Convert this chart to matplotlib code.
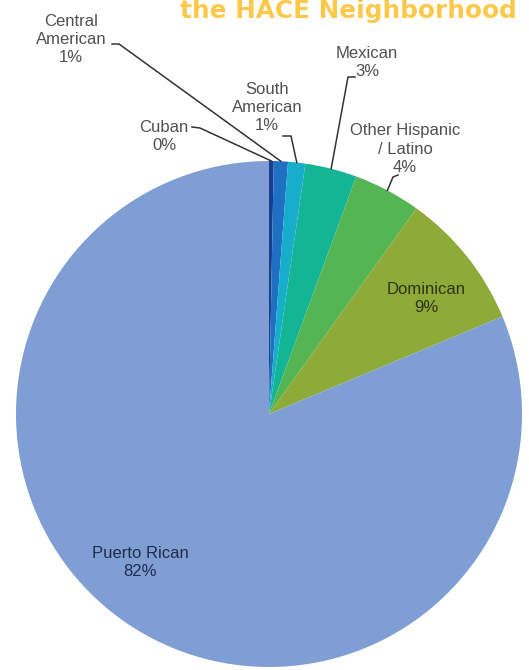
import numpy as np
import matplotlib
matplotlib.use('Agg')
import matplotlib.pyplot as plt

# data (shares in %)
groups = ['Cuban', 'Central\nAmerican', 'South\nAmerican', 'Mexican',
          'Other Hispanic\n/ Latino', 'Dominican', 'Puerto Rican']
shares = [0.3, 0.9, 1.1, 3.3, 4.3, 8.8, 81.3]
pct_labels = ['0%', '1%', '1%', '3%', '4%', '9%', '82%']
colors = ['#1b3f8f', '#1f6fc2', '#17aecb', '#14b596', '#55b553', '#8eaa38', '#7f9ed4']

W, H = 529, 670

# label layout in pixel coords (x, y from top)
label_pos = [(164, 136), (71, 39), (267, 107), (367, 63), (405, 149), (426, 298), (140, 562)]
# leader lines: start and knee points (pixels); None = label sits inside
leader_pts = [[(192, 127), (200, 128)],
              [(112, 44), (119, 44)],
              [(283, 136), (291, 136)],
              [(355, 77), (348, 77)],
              [(398, 175), (393, 177)],
              None, None]
label_colors = ['#505050'] * 5 + ['#2c3414', '#1f2c4c']

fig = plt.figure(figsize=(W / 100, H / 100), dpi=100)
ax = fig.add_axes([0, 0, 1, 1])

cx, cy, r = 269, H - 414, 253
wedges, _ = ax.pie(shares, colors=colors, startangle=90, counterclock=False,
                   center=(cx, cy), radius=r,
                   wedgeprops=dict(linewidth=0, antialiased=True))

ax.set_xlim(0, W)
ax.set_ylim(0, H)
ax.set_aspect('equal')
ax.axis('off')

font = ['Liberation Sans', 'DejaVu Sans']
for i, w in enumerate(wedges):
    x, y = label_pos[i]
    ax.text(x, H - y, groups[i] + '\n' + pct_labels[i], ha='center', va='center',
            fontsize=12, family=font, color=label_colors[i], linespacing=1.25)
    if leader_pts[i] is not None:
        mid = np.deg2rad((w.theta1 + w.theta2) / 2)
        ex, ey = cx + r * np.cos(mid), cy + r * np.sin(mid)
        xs = [p[0] for p in leader_pts[i]] + [ex]
        ys = [H - p[1] for p in leader_pts[i]] + [ey]
        ax.plot(xs, ys, color='#333333', linewidth=1.1)

# title fragment at the top
fig.text(180 / W, 1 - 18 / H, 'the HACE Neighborhood', ha='left', va='baseline',
         fontsize=17.8, fontweight='bold', family=['DejaVu Sans'], color='#ffc84a')

fig.savefig('out.png', dpi=100)
